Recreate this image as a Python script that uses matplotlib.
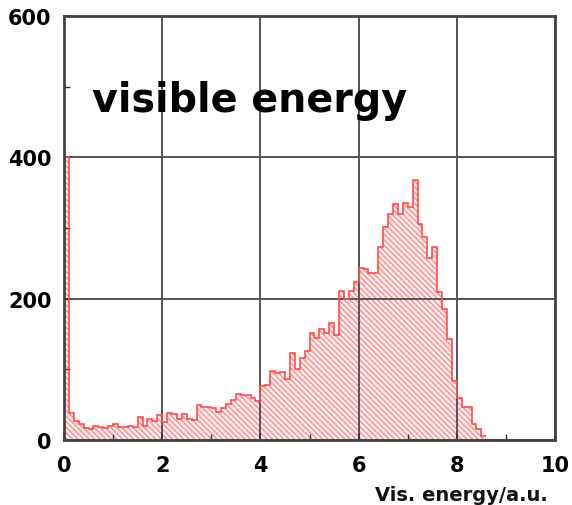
import numpy as np
import matplotlib.pyplot as plt

# histogram of visible energy, bin width 0.1 a.u.
bin_width = 0.1
counts = [400, 38, 27, 22, 17, 15, 20, 18, 17, 20,
          23, 19, 18, 20, 19, 32, 20, 30, 27, 35,
          25, 38, 37, 30, 37, 30, 29, 49, 46, 46,
          45, 39, 45, 51, 56, 65, 63, 63, 59, 55,
          76, 78, 97, 95, 96, 87, 123, 100, 116, 126,
          152, 145, 157, 152, 166, 148, 211, 200, 211, 224,
          244, 242, 236, 236, 273, 301, 320, 334, 320, 336,
          330, 368, 305, 287, 258, 273, 209, 185, 143, 84,
          60, 46, 46, 23, 16, 6]
xticks = [0, 2, 4, 6, 8, 10]
yticks = [0, 200, 400, 600]

edges = np.arange(len(counts) + 1) * bin_width

plt.rcParams['hatch.linewidth'] = 1.0
plt.rcParams['hatch.color'] = '#ff8c8c'

fig = plt.figure(figsize=(5.72, 5.06), dpi=100)
ax = fig.add_axes([64/572, 65/506, 491/572, 424/506])

ax.stairs(counts, edges, fill=True, facecolor='#ffeeee', edgecolor='#ff8c8c',
          hatch='\\' * 6, linewidth=0, zorder=1)
ax.stairs(counts, edges, color='#ff4d4d', linewidth=1.2, baseline=None, zorder=3)

ax.set_xlim(0, 10)
ax.set_ylim(0, 600)
ax.set_xticks(xticks)
ax.set_yticks(yticks)
ax.set_xticks([1, 3, 5, 7, 9], minor=True)
ax.set_yticks([100, 300, 500], minor=True)
ax.tick_params(which='both', direction='in', color='#333333')
ax.tick_params(which='major', length=5, width=1.2)
ax.tick_params(axis='x', which='major', pad=11)
ax.tick_params(axis='y', which='major', pad=9)
ax.tick_params(which='minor', length=4, width=1)
for lab in ax.get_xticklabels() + ax.get_yticklabels():
    lab.set_fontsize(15)
    lab.set_fontweight('bold')
    lab.set_family('DejaVu Sans')

ax.set_axisbelow(False)
ax.grid(True, which='major', color='#555555', linewidth=1.4, zorder=2)
for s in ax.spines.values():
    s.set_color('#444444')
    s.set_linewidth(2)
    s.set_zorder(4)

ax.text(0.57, 465, 'visible energy', fontsize=28.5, fontweight='bold',
        ha='left', va='baseline', color='black', family='DejaVu Sans')

fig.text(548/572, 1/506, 'Vis. energy/a.u.', fontsize=14, fontweight='bold',
         ha='right', va='bottom', family='DejaVu Sans', color='#111111')

fig.savefig('out.png', dpi=100)
